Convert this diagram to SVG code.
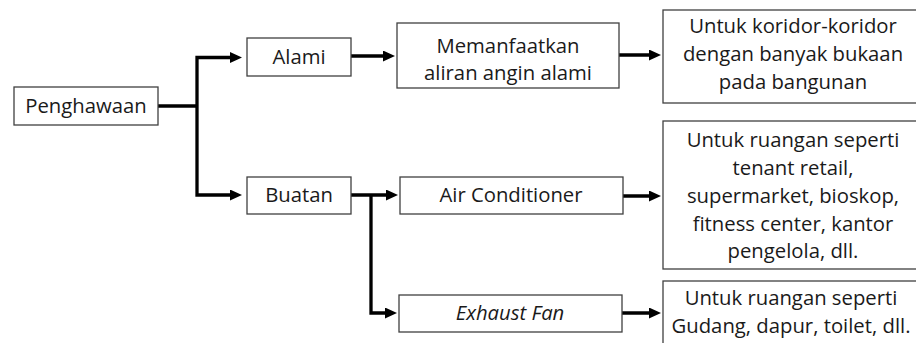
<svg xmlns="http://www.w3.org/2000/svg" width="916" height="343" viewBox="0 0 916 343">
  <style>
    .box { fill: #ffffff; stroke: #404040; stroke-width: 1.3; }
    .t { font-family: "Open Sans", "Noto Sans", "Liberation Sans", sans-serif; font-size: 20.3px; fill: #1a1a1a; text-anchor: middle; }
    .it { font-style: italic; }
    .c { fill: none; stroke: #000000; stroke-width: 3.3; stroke-linejoin: miter; }
  </style>
  <defs>
    <marker id="ah" viewBox="0 0 12 11" refX="7" refY="5.5" markerWidth="12" markerHeight="11" markerUnits="userSpaceOnUse" orient="auto">
      <path d="M0,0 L12,5.5 L0,11 z" fill="#000000"/>
    </marker>
  </defs>
  <rect x="0" y="0" width="916" height="343" fill="#ffffff"/>

  <g id="connectors">
    <path class="c" d="M158,106 H197"/>
    <path class="c" d="M197,106 V57.5 H237" marker-end="url(#ah)"/>
    <path class="c" d="M197,106 V195 H237" marker-end="url(#ah)"/>
    <path class="c" d="M351,56 H390" marker-end="url(#ah)"/>
    <path class="c" d="M619,55 H656" marker-end="url(#ah)"/>
    <path class="c" d="M351,195 H393" marker-end="url(#ah)"/>
    <path class="c" d="M371,195 V313 H392" marker-end="url(#ah)"/>
    <path class="c" d="M623,196 H656" marker-end="url(#ah)"/>
    <path class="c" d="M622,313 H656" marker-end="url(#ah)"/>
  </g>

  <g id="node-penghawaan">
    <rect class="box" x="14" y="87" width="144" height="38"/>
    <text class="t" x="86" y="113">Penghawaan</text>
  </g>
  <g id="node-alami">
    <rect class="box" x="247" y="38" width="104" height="38"/>
    <text class="t" x="299" y="64">Alami</text>
  </g>
  <g id="node-buatan">
    <rect class="box" x="247" y="177" width="104" height="37"/>
    <text class="t" x="299" y="202">Buatan</text>
  </g>
  <g id="node-memanfaatkan">
    <rect class="box" x="397" y="23" width="222" height="65"/>
    <text class="t" x="508" y="53">Memanfaatkan</text>
    <text class="t" x="508" y="80">aliran angin alami</text>
  </g>
  <g id="node-ac">
    <rect class="box" x="400" y="177" width="223" height="37"/>
    <text class="t" x="511" y="202">Air Conditioner</text>
  </g>
  <g id="node-exhaust">
    <rect class="box" x="399" y="295" width="223" height="37"/>
    <text class="t it" x="510" y="320">Exhaust Fan</text>
  </g>
  <g id="node-koridor">
    <rect class="box" x="663" y="10" width="270" height="93"/>
    <text class="t" x="793" y="33">Untuk koridor-koridor</text>
    <text class="t" x="793" y="61">dengan banyak bukaan</text>
    <text class="t" x="793" y="89">pada bangunan</text>
  </g>
  <g id="node-ruangan-ac">
    <rect class="box" x="663" y="121" width="270" height="148"/>
    <text class="t" x="793" y="147">Untuk ruangan seperti</text>
    <text class="t" x="793" y="175">tenant retail,</text>
    <text class="t" x="793" y="203">supermarket, bioskop,</text>
    <text class="t" x="793" y="231">fitness center, kantor</text>
    <text class="t" x="793" y="258">pengelola, dll.</text>
  </g>
  <g id="node-ruangan-exhaust">
    <rect class="box" x="663" y="281" width="270" height="80"/>
    <text class="t" x="791" y="305">Untuk ruangan seperti</text>
    <text class="t" x="791" y="333">Gudang, dapur, toilet, dll.</text>
  </g>
</svg>
